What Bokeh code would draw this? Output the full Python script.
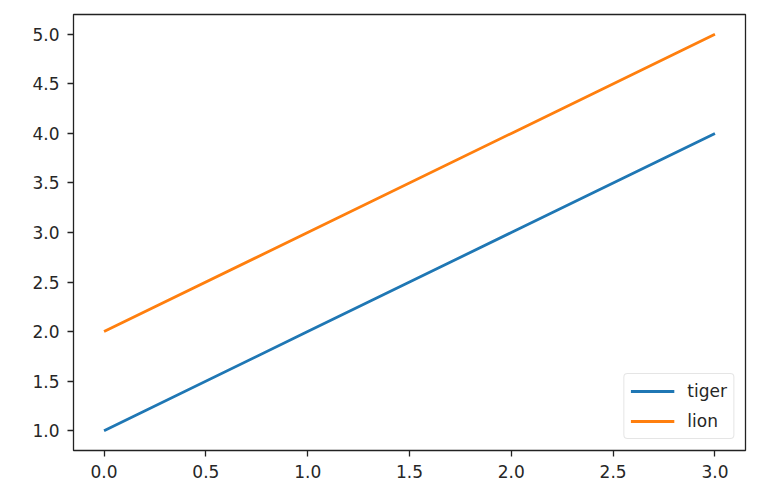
from bokeh.plotting import figure
from bokeh.models import FixedTicker, PrintfTickFormatter, Range1d, Legend, LegendItem
from bokeh.embed import file_html
from bokeh.resources import INLINE

x = [0, 1, 2, 3]
tiger = [1, 2, 3, 4]
lion = [2, 3, 4, 5]
xticks = [0.0, 0.5, 1.0, 1.5, 2.0, 2.5, 3.0]
yticks = [1.0, 1.5, 2.0, 2.5, 3.0, 3.5, 4.0, 4.5, 5.0]

FONT = "DejaVu Sans"
TXT = "#262626"

p = figure(width=756, height=488, output_backend="svg", toolbar_location=None,
           x_range=Range1d(-0.15, 3.15), y_range=Range1d(0.8, 5.2),
           min_border_left=73, min_border_top=14, min_border_right=11, min_border_bottom=38)
p.background_fill_color = "white"
p.border_fill_color = "white"
p.grid.visible = False
p.outline_line_color = "#222222"
p.outline_line_width = 1.3
p.outline_line_alpha = 1.0

for ax, ticks in ((p.xaxis[0], xticks), (p.yaxis[0], yticks)):
    ax.ticker = FixedTicker(ticks=ticks)
    ax.formatter = PrintfTickFormatter(format="%.1f")
    ax.axis_line_color = None
    ax.major_tick_in = 0
    ax.major_tick_out = 6
    ax.major_tick_line_color = "#222222"
    ax.major_tick_line_width = 1.3
    ax.minor_tick_line_color = None
    ax.major_label_text_font = FONT
    ax.major_label_text_font_size = "17px"
    ax.major_label_text_color = TXT
    ax.major_label_standoff = 8

r1 = p.line(x, tiger, line_color="#1f77b4", line_width=2.8)
r2 = p.line(x, lion, line_color="#ff7f0e", line_width=2.8)

legend = Legend(items=[LegendItem(label="tiger", renderers=[r1]),
                       LegendItem(label="lion", renderers=[r2])],
                location="bottom_right")
legend.margin = 11
legend.padding = 6
legend.spacing = 8
legend.glyph_width = 44
legend.glyph_height = 22
legend.label_height = 22
legend.label_standoff = 13
legend.label_text_font = FONT
legend.label_text_font_size = "17px"
legend.label_text_color = TXT
legend.border_line_color = "#cccccc"
legend.border_line_width = 1.2
legend.border_radius = 4
legend.background_fill_alpha = 0.8
p.add_layout(legend)

open("out.html", "w").write(file_html(p, INLINE))
